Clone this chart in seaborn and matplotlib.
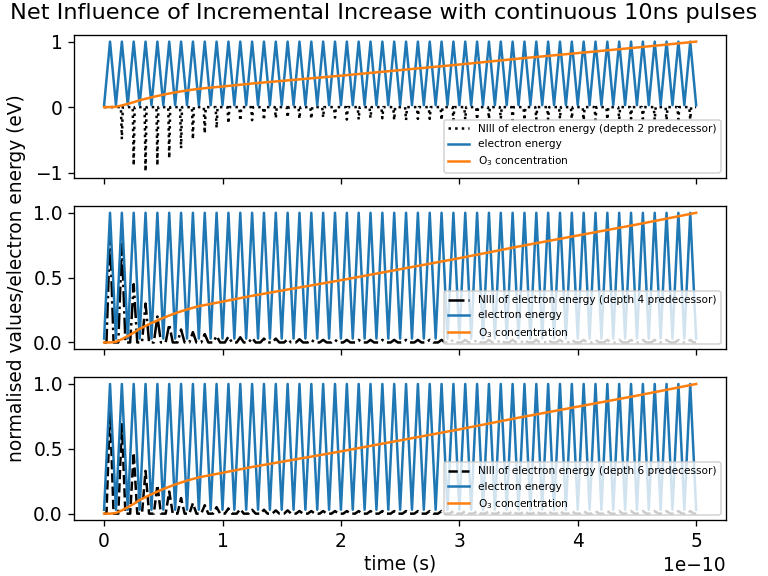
"""Net influence of incremental increase: NIII vs electron energy and O3."""

import matplotlib

matplotlib.use("Agg")
import matplotlib.pyplot as plt
import numpy as np
import pandas as pd
import seaborn as sns

# pulse centres (ps) and read-off peak heights of the electron energy
pulse_centres_ps = [
    5, 15, 25, 35, 45, 55, 65, 75, 85, 95,
    105, 115, 125, 135, 145, 155, 165, 175, 185, 195,
    205, 215, 225, 235, 245, 255, 265, 275, 285, 295,
    305, 315, 325, 335, 345, 355, 365, 375, 385, 395,
    405, 415, 425, 435, 445, 455, 465, 475, 485, 495,
]
electron_peaks = [
    1.0, 1.0, 1.0, 1.0, 1.0, 1.0, 1.0, 1.0, 1.0, 1.0,
    1.0, 1.0, 1.0, 1.0, 1.0, 1.0, 1.0, 1.0, 1.0, 1.0,
    1.0, 1.0, 1.0, 1.0, 1.0, 1.0, 1.0, 1.0, 1.0, 1.0,
    1.0, 1.0, 1.0, 1.0, 1.0, 1.0, 1.0, 1.0, 1.0, 1.0,
    1.0, 1.0, 1.0, 1.0, 1.0, 1.0, 1.0, 1.0, 1.0, 1.0,
]
electron_trough = 0.03

# NIII spike heights per pulse
niii_depth2 = [
    0.0, -0.49, -0.89, -0.98, -0.89, -0.78, -0.63, -0.49, -0.40, -0.32,
    -0.25, -0.21, -0.20, -0.20, -0.17, -0.16, -0.18, -0.18, -0.16, -0.16,
    -0.19, -0.19, -0.17, -0.17, -0.20, -0.20, -0.18, -0.18, -0.20, -0.20,
    -0.19, -0.19, -0.18, -0.18, -0.20, -0.20, -0.19, -0.19, -0.18, -0.18,
    -0.20, -0.20, -0.19, -0.19, -0.18, -0.18, -0.20, -0.20, -0.19, -0.19,
]
niii_depth4 = [
    0.84, 0.76, 0.45, 0.30, 0.20, 0.14, 0.10, 0.08, 0.065, 0.05,
    0.045, 0.04, 0.035, 0.03, 0.03, 0.025, 0.025, 0.02, 0.02, 0.02,
    0.02, 0.02, 0.02, 0.02, 0.02, 0.02, 0.02, 0.02, 0.02, 0.02,
    0.02, 0.02, 0.02, 0.02, 0.02, 0.02, 0.02, 0.02, 0.02, 0.02,
    0.02, 0.02, 0.02, 0.02, 0.02, 0.02, 0.02, 0.02, 0.02, 0.02,
]
niii_depth6 = [
    0.81, 0.69, 0.47, 0.33, 0.22, 0.17, 0.12, 0.08, 0.065, 0.05,
    0.04, 0.035, 0.03, 0.03, 0.025, 0.025, 0.02, 0.02, 0.02, 0.02,
    0.02, 0.02, 0.02, 0.02, 0.02, 0.02, 0.02, 0.02, 0.02, 0.02,
    0.02, 0.02, 0.02, 0.02, 0.02, 0.02, 0.02, 0.02, 0.02, 0.02,
    0.02, 0.02, 0.02, 0.02, 0.02, 0.02, 0.02, 0.02, 0.02, 0.02,
]

# normalised O3 concentration
o3_time_e10 = [0, 0.05, 0.1, 0.15, 0.2, 0.25, 0.3, 0.4, 0.5, 0.6, 0.7,
               0.8, 1.0, 1.25, 1.5, 2.0, 2.5, 3.0, 3.5, 4.0, 4.5, 5.0]
o3_conc = [0, 0, 0.005, 0.025, 0.05, 0.075, 0.105, 0.15, 0.19, 0.225, 0.255,
           0.28, 0.315, 0.36, 0.40, 0.48, 0.565, 0.65, 0.74, 0.825, 0.91, 1.0]

PS = 1e-12


def electron_frame():
    centres = np.array(pulse_centres_ps) * PS
    t = [0.0]
    v = [electron_trough]
    for c, h in zip(centres, electron_peaks):
        t += [c, c + 5 * PS]
        v += [h, electron_trough]
    return pd.DataFrame({"t": t, "v": v})


def spike_frame(heights, half_width_ps):
    centres = np.array(pulse_centres_ps) * PS
    hw = half_width_ps * PS
    t = [0.0]
    v = [0.0]
    for c, h in zip(centres, heights):
        t += [c - hw, c, c + hw]
        v += [0.0, h, 0.0]
    t.append(500 * PS)
    v.append(0.0)
    return pd.DataFrame({"t": t, "v": v})


energy_df = electron_frame()
o3_df = pd.DataFrame({"t": np.array(o3_time_e10) * 1e-10, "v": o3_conc})

panels = [
    (spike_frame(niii_depth2, 0.8), ":", "NIII of electron energy (depth 2 predecessor)"),
    (spike_frame(niii_depth4, 3.0), "-.", "NIII of electron energy (depth 4 predecessor)"),
    (spike_frame(niii_depth6, 3.0), "--", "NIII of electron energy (depth 6 predecessor)"),
]

plt.rcParams["font.size"] = 11.2

fig, axes = plt.subplots(3, 1, sharex=True, figsize=(6.4, 4.8), dpi=120)
fig.subplots_adjust(left=0.097, right=0.945, top=0.939, bottom=0.097, hspace=0.2)

for ax, (niii_df, ls, label) in zip(axes, panels):
    sns.lineplot(data=niii_df, x="t", y="v", ax=ax, color="black", linestyle=ls,
                 label=label, estimator=None, sort=False)
    sns.lineplot(data=energy_df, x="t", y="v", ax=ax, color="#1f77b4",
                 label="electron energy", estimator=None, sort=False)
    sns.lineplot(data=o3_df, x="t", y="v", ax=ax, color="#ff7f0e",
                 label="O$_3$ concentration", estimator=None, sort=False)
    ax.legend(loc="lower right", fontsize=6.3)
    ax.set_xlabel("")
    ax.set_ylabel("")

axes[0].set_yticks([-1, 0, 1])
axes[1].set_ylabel("normalised values/electron energy (eV)")
axes[1].yaxis.set_label_coords(-0.074, 0.5)
axes[2].set_xlabel("time (s)", labelpad=2)
fig.suptitle("Net Influence of Incremental Increase with continuous 10ns pulses",
             fontsize=13.4, y=0.995)

fig.savefig("out.png", dpi=120)
plt.close(fig)
